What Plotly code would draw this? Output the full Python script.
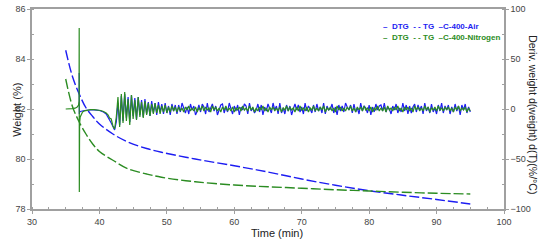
import numpy as np
import plotly.graph_objects as go

# TG curves (weight %, left axis)
tg_air_time = [35, 36, 37, 38, 39, 40, 42, 44.3, 47, 49.2, 54.2, 60, 65, 70, 75, 80, 85, 90, 95]
tg_air = [84.35, 83.3, 82.6, 82.05, 81.7, 81.4, 81.0, 80.67, 80.42, 80.27, 80.0, 79.73,
          79.48, 79.2, 78.95, 78.73, 78.55, 78.38, 78.2]
tg_n2_time = [35, 36, 37, 38, 39, 40, 42, 44.3, 47, 49.2, 54.2, 60, 65, 70, 75, 80, 85, 90, 95]
tg_n2 = [83.2, 82.1, 81.48, 81.0, 80.6, 80.3, 79.95, 79.6, 79.4, 79.27, 79.09, 78.96,
         78.89, 78.83, 78.77, 78.72, 78.67, 78.63, 78.6]

# DTG start (smooth part incl. spike), right axis
dtg_n2_head_time = [35, 35.5, 36, 36.4, 36.7, 36.9, 36.98, 37.0, 37.02, 37.06, 37.15, 37.3, 37.5,
                    37.8, 38.2, 38.7, 39.2, 39.7, 40.2, 40.6, 41.0, 41.3, 41.5]
dtg_n2_head = [0, 0, 0.3, 0.8, 2, 4, 8, 81, -83, -14, -8, -5, -3,
               -1.8, -1, -0.7, -0.6, -0.8, -1.5, -2.5, -4, -6, -9]
dtg_air_head_time = [37.0, 37.02, 37.06, 37.15, 37.4, 37.8, 38.5, 39.2, 40.0, 40.6, 41.0, 41.3, 41.5]
dtg_air_head = [36, -5, -3, -2.5, -2, -1.5, -1, -0.8, -1.5, -3, -5, -8, -11]

# DTG noisy part, sampled every 0.25 min from 41.75 min
dtg_air_noise = [
    -14, -18, -21, -13, 6, -16, 13, -12, 15, -9, 12, -13, 14, -7, 11, -10, 12, -6, 9, -8,
    10, -5, 7, -7, 8, -4, 6, -6, 7, -3, 5, -5, 6, -4, 3, -6, 5, -2, 4, -5,
    4, -3, 6, 1, -4, 2, -5, 5, -1, 3, -6, -2, 4, -3, 5, 2, -5, 6, -3, 1,
    5, -2, 3, -6, -1, 4, 5, -4, 2, -3, 6, 0, -5, 3, -2, 4, -6, 2, -1, 5,
    3, -5, 6, -2, 1, -4, -1, 5, -3, 4, -6, 2, -2, 5, 1, -4, 6, -1, 3, -5,
    6, -4, 1, -5, 4, -2, 3, -6, 0, 5, -1, 4, -3, 2, -5, 6, -2, 3, 0, -4,
    4, -3, 5, -2, 2, -4, 6, -5, 3, -1, 0, 5, -4, 2, -6, 4, -2, 3, -3, 6,
    2, -1, 4, -4, 5, -3, 1, -5, 6, -2, 3, 1, -4, 4, -6, 2, -3, 5, -1, 3,
    4, -2, 6, -3, 2, 0, -5, 3, -1, 5, -4, 1, -3, 6, -2, 4, -5, 3, -4, 2,
    5, -3, 4, -1, 3, -5, 6, -2, 2, -4, 5, -3, 1, -5, 4, -2, 6, -4, 3, -1,
    4, -5, 2, -3, 5, -2, 3, -6, 4, -1, 5, -4, 2, -3]
dtg_n2_noise = [
    -10, -17, -20, -8, 12, -18, 15, -14, 17, -12, 10, -16, 14, -10, 9, -11, 12, -8, 7, -9,
    8, -6, 6, -7, 5, -5, 6, -4, 4, -5, 3, -3, 4, -4, 2, -3, 3, -2, 2, -3,
    2, -2, 1, -3, 2, -1, 3, -2, 1, -2, 2, -3, 1, -1, 3, -2, 2, -1, 1, -3,
    3, -1, 2, -2, 1, -3, 2, -1, 3, -2, 1, -2, 2, -3, 1, -1, 2, -2, 3, -1,
    1, -2, 3, -1, 2, -3, 1, -2, 2, -1, 3, -2, 1, -3, 2, -1, 2, -2, 1, -2,
    2, -3, 1, -1, 3, -2, 2, -1, 1, -3, 2, -2, 3, -1, 1, -2, 2, -3, 1, -1,
    3, -2, 1, -2, 2, -1, 3, -3, 1, -1, 2, -2, 1, -3, 3, -1, 2, -2, 1, -2,
    2, -1, 3, -2, 1, -3, 2, -1, 2, -2, 3, -1, 1, -2, 2, -3, 1, -1, 3, -2,
    1, -2, 2, -3, 3, -1, 1, -2, 2, -1, 3, -2, 1, -3, 2, -1, 2, -2, 1, -3,
    3, -1, 2, -2, 1, -2, 3, -1, 2, -3, 1, -1, 2, -2, 3, -1, 1, -2, 2, -1,
    2, -2, 1, -3, 2, -1, 3, -2, 1, -1, 2, -3, 1, -2]

blue = "#1d1df2"
green = "#2b8c22"

t_air_noise = 41.75 + 0.25 * np.arange(len(dtg_air_noise))
t_n2_noise = 41.75 + 0.25 * np.arange(len(dtg_n2_noise))

fig = go.Figure()
fig.add_trace(go.Scatter(x=tg_air_time, y=tg_air, mode="lines", line_shape="spline",
                         line=dict(color=blue, width=1.4, dash="10px,3px")))
fig.add_trace(go.Scatter(x=tg_n2_time, y=tg_n2, mode="lines", line_shape="spline",
                         line=dict(color=green, width=1.4, dash="10px,3px")))
fig.add_trace(go.Scatter(x=list(dtg_air_head_time) + list(t_air_noise),
                         y=list(dtg_air_head) + list(dtg_air_noise), yaxis="y2",
                         mode="lines", line=dict(color=blue, width=1.2)))
fig.add_trace(go.Scatter(x=list(dtg_n2_head_time) + list(t_n2_noise),
                         y=list(dtg_n2_head) + list(dtg_n2_noise), yaxis="y2",
                         mode="lines", line=dict(color=green, width=1.2)))

axis_col = "#a0a0a0"
tick_font = dict(family="Liberation Sans, Arial", size=9, color="#444")

fig.update_layout(
    width=550, height=245,
    margin=dict(l=32, r=46, t=9, b=36),
    paper_bgcolor="white", plot_bgcolor="white",
    showlegend=False,
    font=dict(family="Liberation Sans, Arial", color="#222"),
    xaxis=dict(range=[30, 100], dtick=10, showgrid=False, zeroline=False, automargin=False,
               showline=True, linecolor=axis_col, linewidth=1.5, mirror=True,
               ticks="outside", ticklen=3, tickcolor=axis_col, tickfont=tick_font,
               minor=dict(dtick=2.5, ticks="inside", ticklen=2, tickcolor=axis_col)),
    yaxis=dict(range=[78, 86], dtick=2, showgrid=False, zeroline=False, automargin=False,
               showline=True, linecolor=axis_col, linewidth=1.5,
               ticks="outside", ticklen=3, tickcolor=axis_col, tickfont=tick_font,
               minor=dict(dtick=1, ticks="inside", ticklen=2, tickcolor=axis_col)),
    yaxis2=dict(range=[-100, 100], dtick=50, overlaying="y", side="right", automargin=False,
                showgrid=False, zeroline=False,
                showline=True, linecolor=axis_col, linewidth=1.5,
                ticks="outside", ticklen=3, tickcolor=axis_col, tickfont=tick_font,
                minor=dict(dtick=25, ticks="inside", ticklen=2, tickcolor=axis_col)),
)

# axis titles
fig.add_annotation(text="Time (min)", xref="paper", yref="paper", x=0.519, y=-0.12,
                   yanchor="middle", showarrow=False, font=dict(size=11, color="#222"))
fig.add_annotation(text="Weight (%)", textangle=-90, xref="paper", yref="paper",
                   x=-0.049, y=0.495, showarrow=False, font=dict(size=11, color="#222"))
fig.add_annotation(text="Deriv. weight d(weight) d(T)(%/°C)", textangle=90,
                   xref="paper", yref="paper", x=1.078, y=0.47, showarrow=False,
                   font=dict(size=10.5, color="#222"))

# legend drawn as text, as in the original
fig.add_annotation(text="<b>–  DTG  - - TG  –C-400-Air</b>", xref="paper", yref="paper",
                   x=0.74, y=0.945, xanchor="left", showarrow=False,
                   font=dict(size=8, color=blue))
fig.add_annotation(text="<b>–  DTG  - - TG  –C-400-Nitrogen</b>", xref="paper", yref="paper",
                   x=0.74, y=0.89, xanchor="left", showarrow=False,
                   font=dict(size=8, color=green))

# page body has an 8px default margin; drop it so the figure fills the window
fig.write_html("out.html", config={"displayModeBar": False},
               post_script="document.body.style.margin = '0px';")
